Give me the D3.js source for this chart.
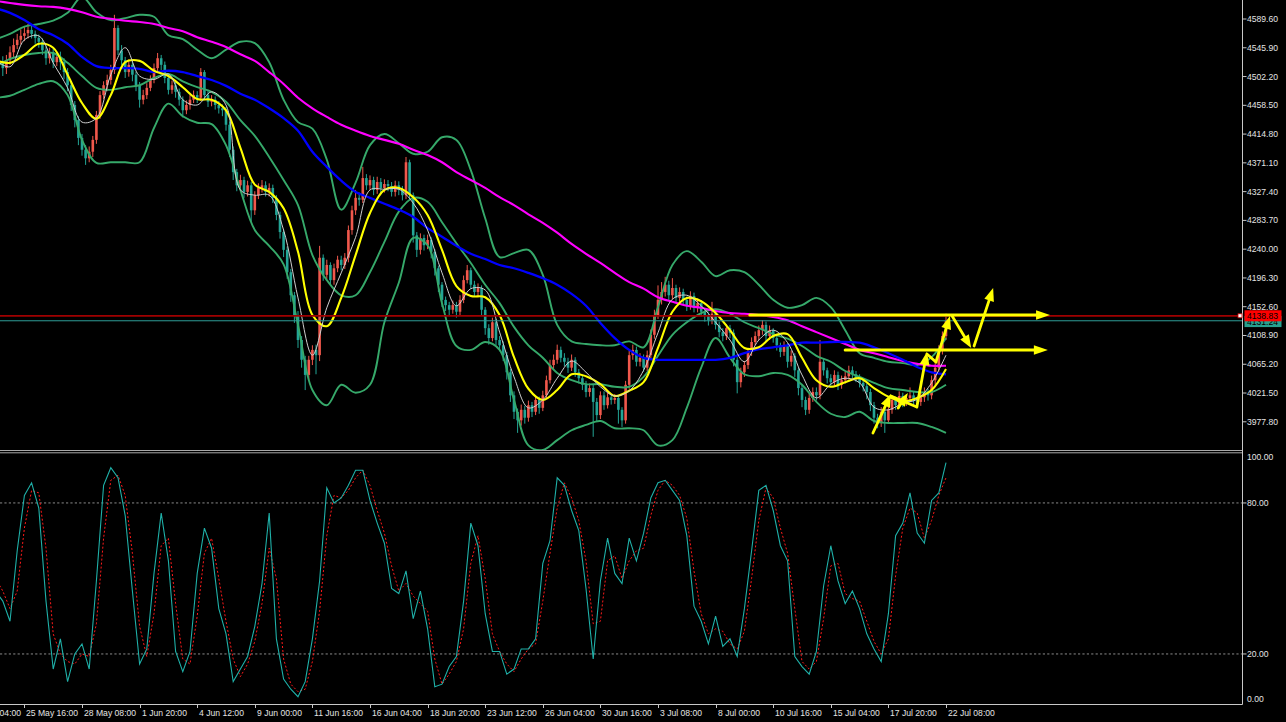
<!DOCTYPE html>
<html><head><meta charset="utf-8">
<script src="https://cdn.jsdelivr.net/npm/d3@7"></script>
<style>html,body{margin:0;padding:0;background:#000;overflow:hidden}svg{display:block}</style>
</head><body><svg id="c" width="1286" height="722"></svg>
<script>
// ---------- DATA ----------
const firstOpen = 4525;
const closes = [
4515,4527,4539,4550,4558,4564,4568,4573,4567,4561,
4555,4542,4530,4539,4524,4532,4524,4509,4489,4459,
4436,4409,4391,4378,4388,4406,4444,4474,4489,4497,
4512,4576,4542,4527,4509,4520,4505,4489,4467,4474,
4485,4497,4515,4530,4520,4500,4482,4489,4479,4467,
4451,4459,4467,4474,4470,4509,4474,4464,4467,4459,
4454,4451,4429,4391,4357,4337,4345,4327,4337,4299,
4322,4333,4337,4327,4333,4318,4292,4266,4239,4205,
4170,4140,4102,4072,4049,4072,4087,4079,4227,4201,
4216,4193,4211,4224,4216,4227,4269,4299,4318,4315,
4348,4337,4345,4330,4342,4333,4339,4336,4327,4337,
4330,4322,4372,4322,4261,4239,4257,4246,4254,4236,
4211,4186,4163,4155,4148,4155,4145,4163,4193,4208,
4186,4175,4181,4148,4120,4105,4129,4102,4094,4079,
4053,4018,3993,3980,3996,3984,4003,3993,4011,3999,
4018,4041,4064,4072,4087,4075,4069,4060,4072,4053,
4044,4034,4023,4029,4008,3988,4018,4003,4015,4011,
4014,3996,3980,4034,4079,4087,4069,4075,4060,4079,
4110,4140,4163,4175,4186,4170,4181,4166,4175,4163,
4154,4169,4151,4158,4145,4139,4132,4142,4125,4114,
4108,4120,4113,4072,4038,4053,4064,4084,4099,4108,
4117,4125,4108,4117,4105,4094,4084,4093,4069,4078,
4056,4029,4011,3996,4014,4023,4018,4069,4056,4044,
4038,4049,4034,4041,4047,4056,4050,4044,4037,4032,
4023,4003,3984,3977,3993,3980,3996,4011,4003,4017,
4008,4014,4018,4011,4008,4015,4023,4018,4041,4060,
4087,4108,4131];
const highs = [
4533,4535,4548,4560,4567,4574,4578,4582,4580,4572,
4566,4560,4548,4546,4545,4540,4540,4530,4515,4495,
4465,4442,4415,4398,4396,4412,4450,4480,4495,4505,
4520,4596,4580,4550,4532,4528,4525,4510,4494,4482,
4492,4504,4522,4538,4535,4525,4505,4496,4494,4484,
4472,4466,4474,4481,4480,4515,4512,4480,4474,4472,
4465,4460,4456,4434,4396,4362,4353,4350,4344,4342,
4328,4340,4345,4343,4340,4338,4322,4297,4270,4244,
4210,4175,4146,4108,4078,4078,4094,4095,4245,4232,
4224,4220,4218,4230,4230,4234,4276,4306,4330,4326,
4365,4354,4352,4350,4350,4348,4346,4345,4342,4344,
4343,4336,4380,4376,4326,4266,4264,4262,4262,4258,
4240,4215,4190,4168,4160,4162,4160,4170,4200,4216,
4212,4192,4188,4185,4152,4126,4136,4134,4108,4100,
4084,4058,4024,3998,4004,4002,4010,4008,4018,4016,
4025,4048,4072,4080,4095,4092,4082,4075,4080,4076,
4058,4049,4040,4036,4034,4014,4024,4024,4022,4020,
4020,4018,4000,4040,4086,4095,4092,4082,4080,4086,
4118,4148,4185,4190,4198,4192,4196,4186,4182,4180,
4168,4176,4174,4165,4162,4150,4144,4160,4146,4130,
4120,4126,4125,4118,4076,4060,4070,4090,4106,4115,
4124,4132,4130,4124,4120,4110,4098,4100,4097,4086,
4082,4060,4034,4016,4020,4030,4030,4102,4074,4060,
4050,4056,4054,4048,4054,4063,4062,4055,4050,4042,
4036,4028,4008,3990,4000,3998,4004,4018,4016,4024,
4022,4020,4030,4024,4016,4022,4030,4028,4048,4067,
4094,4115,4142];
const lows = [
4503,4506,4520,4532,4544,4551,4556,4560,4560,4552,
4546,4535,4520,4522,4515,4518,4512,4498,4480,4450,
4425,4398,4382,4368,4372,4380,4400,4438,4468,4480,
4490,4506,4535,4520,4500,4502,4495,4480,4455,4460,
4468,4480,4492,4510,4512,4492,4475,4476,4470,4458,
4440,4445,4452,4462,4462,4465,4468,4456,4457,4452,
4446,4442,4420,4380,4345,4328,4330,4318,4320,4282,
4292,4316,4326,4320,4320,4310,4284,4256,4228,4195,
4160,4128,4090,4060,4026,4040,4064,4050,4070,4192,
4194,4185,4186,4205,4208,4210,4220,4262,4292,4306,
4310,4330,4330,4322,4324,4326,4326,4328,4320,4320,
4322,4314,4316,4314,4250,4228,4232,4238,4240,4226,
4200,4175,4152,4146,4140,4142,4136,4140,4158,4188,
4180,4168,4168,4140,4110,4095,4100,4094,4085,4070,
4042,4008,3982,3961,3972,3975,3978,3985,3988,3990,
3994,4012,4036,4058,4066,4068,4062,4052,4055,4046,
4036,4026,4015,4016,3955,3978,3982,3996,3998,4004,
4005,3975,3970,3975,4028,4072,4062,4062,4054,4055,
4074,4104,4134,4156,4168,4162,4164,4158,4160,4155,
4146,4148,4144,4144,4138,4130,4124,4126,4118,4106,
4100,4102,4105,4062,4021,4030,4046,4058,4078,4094,
4102,4110,4100,4102,4098,4086,4076,4078,4060,4062,
4046,4018,4000,3988,3990,4008,4010,4012,4048,4036,
4030,4032,4026,4028,4036,4042,4044,4038,4030,4024,
4012,3994,3975,3968,3970,3961,3975,3990,3996,3998,
4000,4002,4008,4004,4000,4002,4008,4010,4012,4034,
4054,4080,4102];

// indicator readings, one value every 4 bars starting at bar -2
const lineStart = -2, lineStep = 4;
const maSlow = [4617,4614,4611,4609,4608,4605,4600,4593,4590,4587,4585,4582,4576,4571,4562,4555,4547,4536,4526,4509,
4491,4470,4454,4441,4429,4420,4412,4406,4400,4391,4383,4372,4357,4345,4333,4319,4307,4293,4280,4265,
4248,4233,4219,4204,4190,4180,4167,4160,4154,4151,4146,4143,4142,4140,4137,4132,4123,4114,4105,4096,
4087,4082,4076,4070,4066,4063,4063];
const maMid = [4606,4599,4588,4574,4565,4552,4532,4518,4515,4515,4514,4509,4511,4509,4503,4497,4488,4476,4467,4454,
4439,4420,4388,4365,4344,4327,4318,4309,4300,4289,4272,4259,4245,4233,4225,4216,4211,4204,4196,4186,
4172,4154,4128,4105,4087,4075,4072,4072,4072,4072,4072,4075,4082,4088,4091,4094,4098,4098,4099,4099,
4098,4091,4082,4072,4061,4053,4050];
const maFast = [4527,4523,4535,4552,4546,4505,4462,4438,4474,4524,4526,4511,4503,4486,4468,4467,4451,4394,4338,4327,
4302,4236,4140,4123,4166,4231,4295,4330,4333,4319,4292,4239,4184,4169,4167,4140,4076,4028,4011,4026,
4050,4047,4035,4017,4025,4038,4090,4145,4166,4161,4143,4117,4090,4091,4108,4111,4075,4041,4031,4038,
4044,4029,4016,4009,4014,4026,4058];
const maWhite = [4527,4517,4558,4564,4523,4485,4433,4439,4505,4546,4503,4498,4506,4467,4459,4479,4459,4330,4322,4322,
4269,4166,4079,4151,4204,4258,4330,4331,4331,4310,4269,4204,4154,4180,4178,4114,4046,3999,4011,4044,
4070,4053,4031,4017,4025,4056,4113,4164,4170,4154,4129,4102,4069,4102,4117,4098,4049,4014,4035,4044,
4037,4000,3996,4006,4012,4037,4079];
const bbUpper = [4559,4567,4578,4582,4587,4599,4623,4600,4588,4591,4596,4593,4565,4559,4543,4530,4543,4555,4553,4524,
4467,4433,4423,4376,4300,4341,4398,4415,4401,4385,4388,4410,4406,4360,4287,4228,4234,4239,4201,4125,
4100,4096,4094,4094,4100,4091,4152,4216,4237,4221,4199,4208,4205,4186,4163,4151,4155,4166,4152,4117,
4082,4075,4069,4067,4064,4076,4105];
const bbMiddle = [4517,4529,4535,4538,4538,4523,4503,4485,4482,4486,4489,4500,4506,4495,4486,4479,4464,4436,4412,4380,
4345,4307,4231,4193,4170,4170,4205,4251,4297,4318,4312,4281,4249,4219,4186,4158,4122,4094,4075,4052,
4041,4035,4035,4031,4031,4046,4078,4110,4129,4143,4149,4142,4129,4120,4111,4104,4093,4078,4069,4055,
4046,4037,4029,4026,4023,4023,4034];
const bbLower = [4470,4473,4482,4491,4495,4474,4406,4371,4372,4372,4372,4424,4461,4442,4432,4430,4398,4330,4269,4245,
4217,4125,4026,4003,4034,4022,4034,4129,4189,4257,4246,4158,4093,4087,4099,4087,4011,3942,3935,3950,
3965,3973,3979,3968,3968,3965,3942,3950,3999,4060,4105,4075,4050,4047,4052,4049,4034,4008,3990,3985,
3993,3979,3976,3976,3976,3970,3961];

// stochastic readings, one value every 2 bars starting at bar -2
const stStart = -2, stStep = 2;
const stochMain = [45,41,33,61,83,88,78,41,14,26, 9,20,24,14,49,87,94,90,75,45,
16,22,52,76,57,21,13,21,52,70, 62,38,28,9,14,19,31,48,76,26,
10,6,3,9,26,49,86,80,82,87, 93,93,81,72,64,46,44,53,34,45,
30,7,8,15,19,41,72,63,36,21, 21,12,14,22,22,26,56,65,90,87,
77,69,46,18,49,66,52,48,66,57, 68,82,88,89,85,81,67,39,33,24,
35,23,26,19,38,61,85,87,77,63, 57,19,15,12,21,47,63,49,40,45,
38,28,22,17,36,67,72,84,68,64, 81,84,96];
const stochSignal = [50,45,38,45,70,85,84,62,28,20, 17,16,20,19,32,66,89,91,83,60,
31,19,36,63,66,40,18,16,35,60, 66,50,33,18,11,16,25,40,62,50,
18,8,5,6,17,37,67,83,82,85, 90,93,87,77,68,55,45,48,43,40,
37,18,8,12,17,30,56,67,50,28, 21,16,13,18,22,24,41,60,78,88,
82,73,57,32,33,57,59,50,57,61, 62,75,85,89,87,83,74,53,36,28,
30,29,24,22,29,50,73,86,82,70, 60,38,17,14,17,34,55,56,44,42,
41,33,25,20,26,51,70,78,76,66, 73,83,90];

const priceTicks = [4589.60,4545.90,4502.20,4458.50,4414.80,4371.10,4327.40,4283.70,4240.00,4196.30,4152.60,4108.90,4065.20,4021.50,3977.80];
const stochTicks = [100,80,20,0];
const stochLevels = [80,20];
const timeTickBars = [-10,6,22,38,54,70,86,102,118,134,150,166,182,198,214,230,246,262];
const timeTickLabels = ["21 May 04:00","25 May 16:00","28 May 08:00","1 Jun 20:00","4 Jun 12:00","9 Jun 00:00","11 Jun 16:00","16 Jun 04:00","18 Jun 20:00","23 Jun 12:00","26 Jun 04:00","30 Jun 16:00","3 Jul 08:00","8 Jul 00:00","10 Jul 16:00","15 Jul 04:00","17 Jul 20:00","22 Jul 08:00"];
const askPrice = 4138.83, bidPrice = 4131.24;
// drawn objects (bar index, price)
const hArrows = [[207.5,290.9,4140.0],[234.0,290.3,4086.9]];
const zigzag = [
 [241.7,3960.8,246.7,4020.0,1],[246.7,4017.0,253.9,4000.3,0],[248.7,3998.8,251.4,4021.5,1],
 [253.9,4000.3,256.7,4083.8,1],[256.7,4080.8,259.2,4068.6,0],[259.2,4068.6,263.1,4138.5,1],
 [263.7,4138.5,269.0,4089.9,1],[269.8,4092.9,275.1,4181.0,1]];

// ---------- DRAW ----------
const W=1286,H=722, AX=1242.5, MAIN_B=450, ST_T=453, ST_B=704.5;
const svg=d3.select('#c');
svg.append('rect').attr('width',W).attr('height',H).attr('fill','#000');
const x=d3.scaleLinear().domain([0,262]).range([2.8,946]);
const y=d3.scaleLinear().domain([3977.8,4589.6]).range([421.8,19]);
const ys=d3.scaleLinear().domain([0,100]).range([704.3,452.6]);
const FONT='"Liberation Sans", Arial, sans-serif';

const defs=svg.append('defs');
defs.append('clipPath').attr('id','cm').append('rect').attr('x',0).attr('y',0).attr('width',AX).attr('height',MAIN_B);
defs.append('clipPath').attr('id','cs').append('rect').attr('x',0).attr('y',ST_T).attr('width',AX).attr('height',ST_B-ST_T);

const gm=svg.append('g').attr('clip-path','url(#cm)');
const UP='#f0584c', DN='#23a596';
const bars=closes.map((c,i)=>({i,o:i?closes[i-1]:firstOpen,c,h:highs[i],l:lows[i]}));
gm.selectAll('line.w').data(bars).join('line')
  .attr('x1',d=>x(d.i)).attr('x2',d=>x(d.i)).attr('y1',d=>y(d.h)).attr('y2',d=>y(d.l))
  .attr('stroke',d=>d.c>=d.o?UP:DN).attr('stroke-width',1);
gm.selectAll('rect.b').data(bars).join('rect')
  .attr('x',d=>x(d.i)-1.3).attr('width',2.6)
  .attr('y',d=>y(Math.max(d.o,d.c))).attr('height',d=>Math.max(1,Math.abs(y(d.o)-y(d.c))))
  .attr('fill',d=>d.c>=d.o?UP:DN);

function series(arr,start,step){return arr.map((v,k)=>({i:start+k*step,v}));}
const lineP=d3.line().x(d=>x(d.i)).y(d=>y(d.v)).curve(d3.curveCatmullRom.alpha(0.5));
function drawLine(arr,color,w){gm.append('path').datum(series(arr,lineStart,lineStep)).attr('d',lineP)
  .attr('fill','none').attr('stroke',color).attr('stroke-width',w).attr('stroke-linejoin','round');}
const GREEN='#36a96a';
drawLine(bbUpper,GREEN,1.9); drawLine(bbMiddle,GREEN,1.9); drawLine(bbLower,GREEN,1.9);
drawLine(maSlow,'#ff00ff',2.1);
drawLine(maMid,'#0000ff',2.3);
drawLine(maFast,'#ffff00',2.1);
drawLine(maWhite,'#cfcfcf',1);

// price lines
gm.append('line').attr('x1',0).attr('x2',AX).attr('y1',y(bidPrice)).attr('y2',y(bidPrice)).attr('stroke','#2f9c96').attr('stroke-width',1);
gm.append('line').attr('x1',0).attr('x2',AX).attr('y1',y(askPrice)).attr('y2',y(askPrice)).attr('stroke','#a00000').attr('stroke-width',1.7);

// yellow drawn objects
const YEL='#ffff00';
function arrow(g,x1,y1,x2,y2,head,w,hl,hw){
  const dx=x2-x1, dy=y2-y1, L=Math.hypot(dx,dy), ux=dx/L, uy=dy/L;
  const ex=head?x2-ux*hl*0.8:x2, ey=head?y2-uy*hl*0.8:y2;
  g.append('line').attr('x1',x1).attr('y1',y1).attr('x2',ex).attr('y2',ey)
   .attr('stroke',YEL).attr('stroke-width',w).attr('stroke-linecap','round');
  if(head){
    const bx=x2-ux*hl, by=y2-uy*hl;
    g.append('path').attr('d',`M${x2},${y2}L${bx-uy*hw},${by+ux*hw}L${bx+uy*hw},${by-ux*hw}Z`).attr('fill',YEL);
  }
}
const ga=svg.append('g').attr('clip-path','url(#cm)');
const xa=d3.scaleLinear().domain([0,262]).range([2.8,946]);
hArrows.forEach(a=>arrow(ga,xa(a[0]),y(a[2]),xa(a[1]),y(a[2]),1,3,14,4.8));
zigzag.forEach(a=>arrow(ga,xa(a[0]),y(a[1]),xa(a[2]),y(a[3]),a[4],2.8,13,5));

// stochastic
const gs=svg.append('g').attr('clip-path','url(#cs)');
stochLevels.forEach(v=>gs.append('line').attr('x1',0).attr('x2',AX).attr('y1',ys(v)).attr('y2',ys(v))
  .attr('stroke','#8a8a8a').attr('stroke-width',1).attr('stroke-dasharray','2.2,2.2'));
const sLine=d3.line().x(d=>x(d.i)).y(d=>ys(d.v));
gs.append('path').datum(series(stochSignal,stStart,stStep)).attr('d',sLine).attr('fill','none')
  .attr('stroke','#ff1a1a').attr('stroke-width',1).attr('stroke-dasharray','2,2');
gs.append('path').datum(series(stochMain,stStart,stStep)).attr('d',sLine).attr('fill','none')
  .attr('stroke','#1fb0a8').attr('stroke-width',1.1);

// frame / separators
const AXC='#c8c8c8';
svg.append('line').attr('x1',0).attr('x2',AX).attr('y1',450.5).attr('y2',450.5).attr('stroke','#a8a8a8');
svg.append('line').attr('x1',0).attr('x2',AX).attr('y1',452.8).attr('y2',452.8).attr('stroke','#a8a8a8');
svg.append('line').attr('x1',AX).attr('x2',AX).attr('y1',0).attr('y2',ST_B).attr('stroke',AXC);
svg.append('line').attr('x1',0).attr('x2',AX).attr('y1',ST_B).attr('y2',ST_B).attr('stroke',AXC);

// price axis
const TXT='#e4e4e4';
priceTicks.forEach(p=>{
  svg.append('line').attr('x1',AX).attr('x2',AX+4).attr('y1',y(p)).attr('y2',y(p)).attr('stroke',AXC);
  svg.append('text').attr('x',AX+4.5).attr('y',y(p)).attr('dy','0.35em').attr('fill',TXT)
    .attr('font-family',FONT).attr('font-size',8.6).text(p.toFixed(2));
});
// price tags
function tag(p,bg,dyc){
  const yy=y(p)+dyc;
  svg.append('rect').attr('x',AX+2).attr('y',yy-5.5).attr('width',37).attr('height',11).attr('fill',bg);
  svg.append('text').attr('x',AX+4.5).attr('y',yy).attr('dy','0.35em').attr('fill','#000')
    .attr('font-family',FONT).attr('font-size',8.6).text(p.toFixed(2));
}
tag(bidPrice,'#27a08f',0.8);
tag(askPrice,'#ff0000',0);
svg.append('rect').attr('x',AX-4.5).attr('y',y(askPrice)-2).attr('width',4).attr('height',4)
  .attr('fill','#fff').attr('stroke','#c00000').attr('stroke-width',0.8);

// stochastic axis
stochTicks.forEach(v=>{
  let yy=ys(v); if(v===100) yy=457; if(v===0) yy=699;
  if(v!==100 && v!==0) svg.append('line').attr('x1',AX).attr('x2',AX+4).attr('y1',yy).attr('y2',yy).attr('stroke',AXC);
  svg.append('text').attr('x',AX+4.5).attr('y',yy).attr('dy','0.35em').attr('fill',TXT)
    .attr('font-family',FONT).attr('font-size',8.6).text(v.toFixed(2));
});

// time axis
timeTickBars.forEach((b,k)=>{
  const xx=Math.round(x(b))+0.5;
  svg.append('line').attr('x1',xx).attr('x2',xx).attr('y1',ST_B).attr('y2',ST_B+3.5).attr('stroke',AXC);
  svg.append('text').attr('x',xx+1.5).attr('y',716).attr('fill',TXT)
    .attr('font-family',FONT).attr('font-size',8.6).text(timeTickLabels[k]);
});
</script></body></html>
